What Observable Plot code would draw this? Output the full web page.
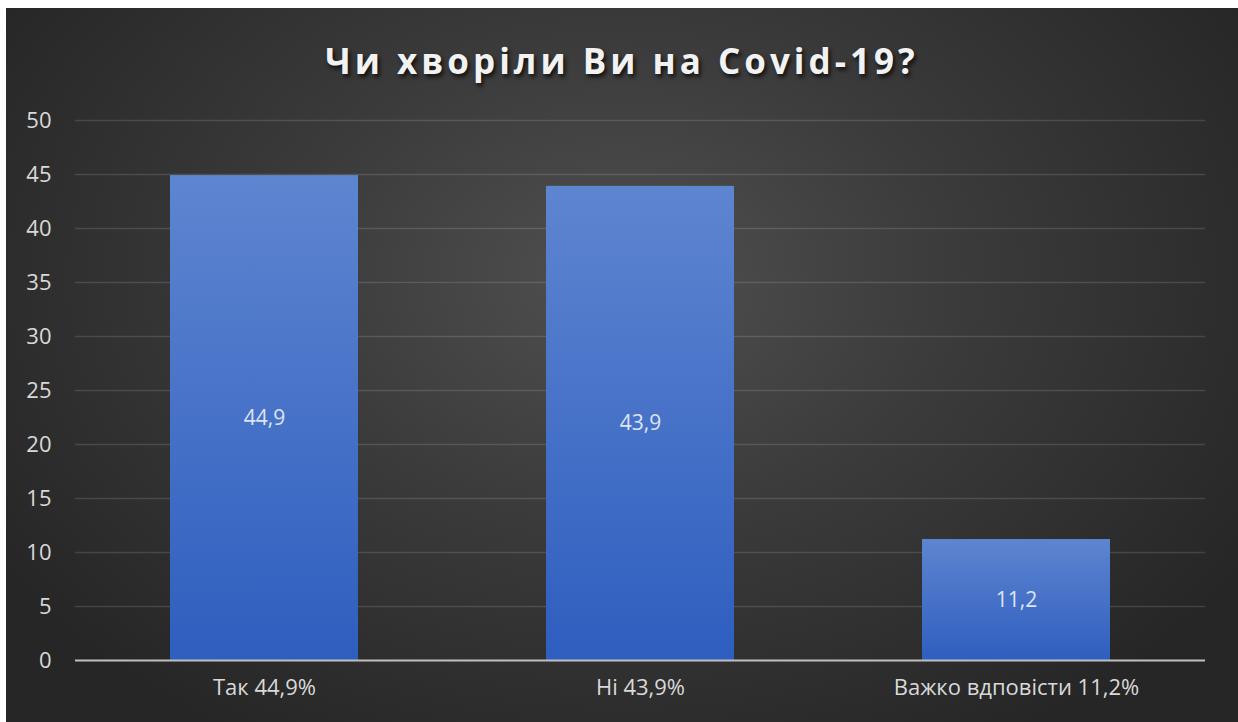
<!DOCTYPE html>
<html>
<head>
<meta charset="utf-8">
<script src="https://cdn.jsdelivr.net/npm/d3@7"></script>
<script src="https://cdn.jsdelivr.net/npm/@observablehq/plot@0.6"></script>
<style>
  html, body { margin: 0; padding: 0; background: #ffffff; }
  #frame {
    position: absolute; left: 6px; top: 8px; width: 1232px; height: 714px;
    background: radial-gradient(ellipse 60% 75% at 50% 38%, #505050 0%, #3b3b3b 45%, #262626 100%);
    overflow: hidden;
  }
  #title {
    height: 90px; line-height: 106px; text-align: center;
    font-family: "Open Sans", sans-serif; font-weight: 700; font-size: 35px;
    letter-spacing: 4px; color: #f2f2f2;
    text-shadow: 2px 3px 4px rgba(0,0,0,0.75);
  }
</style>
</head>
<body>
<div id="frame">
  <div id="title">Чи хворіли Ви на Covid-19?</div>
  <div id="chart"></div>
</div>
<script>
const categories = ["Так 44,9%", "Ні 43,9%", "Важко вдповісти 11,2%"];
const values = [44.9, 43.9, 11.2];
const valueLabels = ["44,9", "43,9", "11,2"];
const yTicks = [0, 5, 10, 15, 20, 25, 30, 35, 40, 45, 50];

const data = categories.map((c, i) => ({category: c, value: values[i], label: valueLabels[i]}));

const plot = Plot.plot({
  width: 1232,
  height: 624,
  marginTop: 22,
  marginBottom: 62,
  marginLeft: 69,
  marginRight: 33,
  style: {background: "transparent", color: "#d9d9d9", fontFamily: "Open Sans, sans-serif", fontSize: "22px"},
  x: {domain: categories, paddingInner: 0.5, paddingOuter: 0.25, label: null, tickSize: 0, tickPadding: 19},
  y: {domain: [0, 50], ticks: yTicks, label: null, tickSize: 0, tickPadding: 24, tickFormat: d => String(d)},
  marks: [
    Plot.gridY(yTicks.filter(t => t > 0), {stroke: "#ffffff", strokeOpacity: 0.13, strokeWidth: 1.3}),
    Plot.barY(data, {x: "category", y: "value", fill: "url(#barGrad)", style: "filter: drop-shadow(0px 0px 3px rgba(0,0,0,0.55))"}),
    Plot.ruleY([0], {stroke: "#bfbfbf", strokeWidth: 2.2}),
    Plot.text(data, {x: "category", y: d => d.value / 2, text: "label", fill: "#dde4f3", fontSize: 21})
  ]
});

const ns = "http://www.w3.org/2000/svg";
const defs = document.createElementNS(ns, "defs");
defs.innerHTML = `<linearGradient id="barGrad" x1="0" y1="0" x2="0" y2="1">
  <stop offset="0" stop-color="#5e85d0"/>
  <stop offset="1" stop-color="#2e5ebf"/>
</linearGradient>`;
plot.insertBefore(defs, plot.firstChild);
document.getElementById("chart").appendChild(plot);
</script>
</body>
</html>
